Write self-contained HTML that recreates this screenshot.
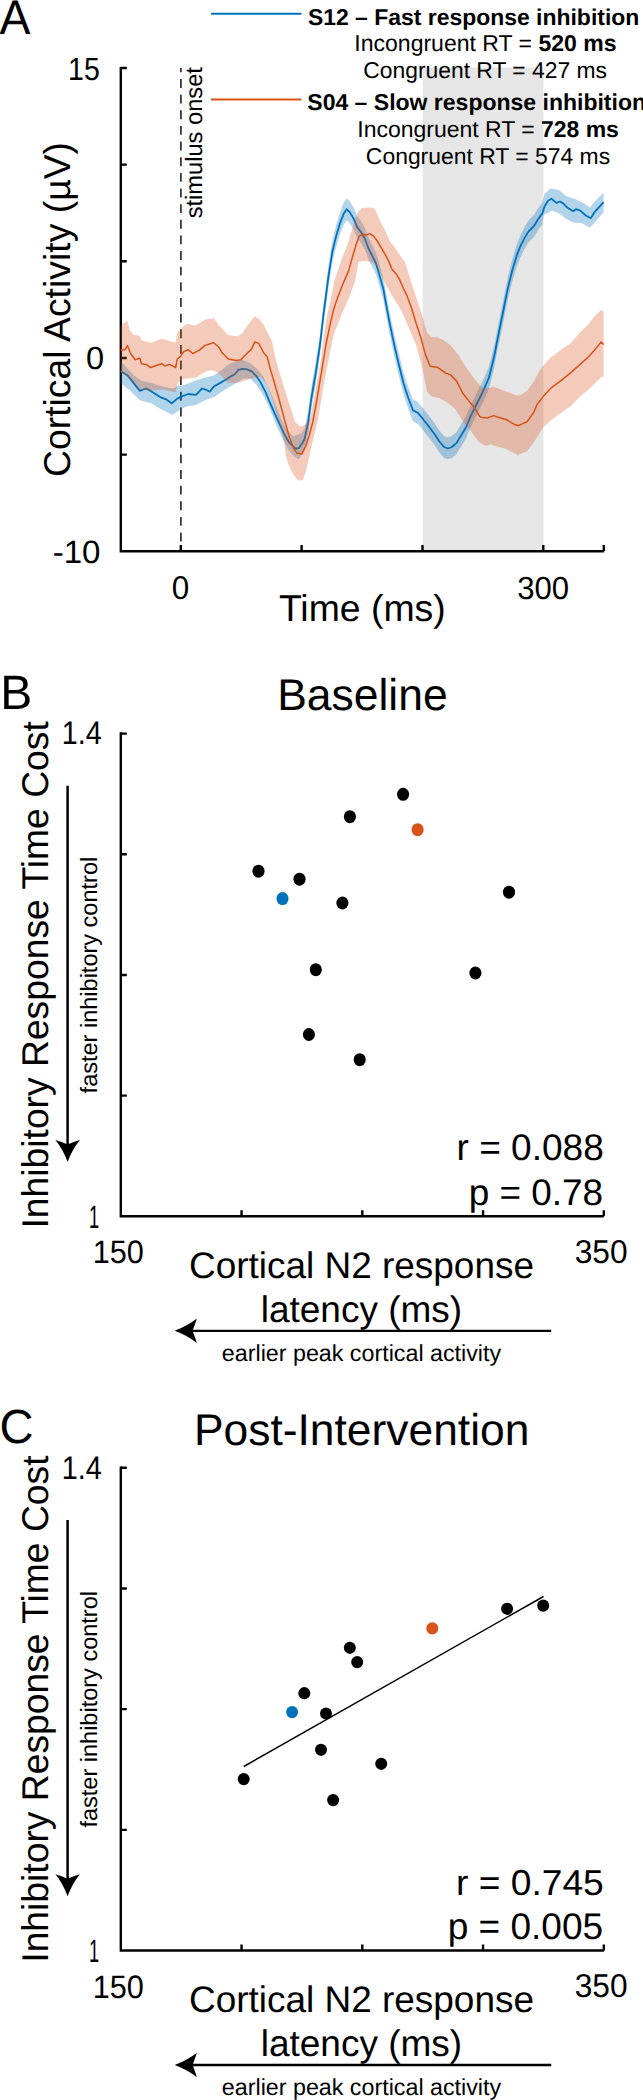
<!DOCTYPE html>
<html><head><meta charset="utf-8"><title>Figure</title>
<style>html,body{margin:0;padding:0;background:#fff;} svg{display:block;} text{font-family:"Liberation Sans", sans-serif;fill:#000;text-rendering:geometricPrecision;}</style>
</head><body>
<svg width="643" height="2100" viewBox="0 0 643 2100">
<rect x="0" y="0" width="643" height="2100" fill="#fff"/>
<g id="plotA">
<rect x="422.7" y="67.5" width="120.7" height="483" fill="#E6E6E6"/>
<line x1="180.9" y1="68" x2="180.9" y2="551" stroke="#383838" stroke-width="1.8" stroke-dasharray="8.9 6.74" stroke-dashoffset="4.6"/>
<path d="M120.8,66.9 V551.3 H603.8" fill="none" stroke="#000" stroke-width="2.4"/>
<path d="M120.8,68.00 h6 M120.8,164.66 h6 M120.8,261.32 h6 M120.8,357.98 h6 M120.8,454.64 h6 M180.8,551.3 v-6.2 M301.6,551.3 v-6.2 M422.5,551.3 v-6.2 M543.3,551.3 v-6.2 M603.8,551.3 v-6.2 " fill="none" stroke="#000" stroke-width="2.4"/>
<polygon points="120.6,361.0 133.7,375.3 141.4,380.8 150.8,383.1 161.7,386.2 172.5,388.5 177.2,386.2 185.0,384.7 192.8,381.5 202.1,378.4 214.3,375.3 220.6,370.7 228.3,364.4 236.1,361.3 242.3,359.8 250.1,362.9 256.3,368.3 262.5,375.3 268.8,387.8 275.0,403.3 281.2,418.9 287.4,431.3 293.6,436.0 298.3,434.4 301.7,433.0 304.5,428.2 306.4,419.8 308.3,410.5 311.1,389.0 315.9,361.0 320.1,333.0 323.3,305.0 325.6,287.3 328.7,263.6 332.5,240.0 336.2,225.1 339.9,212.6 343.7,202.7 346.8,198.3 349.9,201.4 353.6,207.6 357.3,216.3 361.1,221.3 364.8,227.5 368.5,237.5 372.3,245.0 376.0,252.4 379.7,264.9 383.5,278.6 385.3,289.0 389.7,312.3 394.3,334.1 399.0,354.3 403.7,373.0 408.3,387.0 413.0,399.4 417.7,401.7 422.3,407.2 428.5,415.0 434.8,423.5 439.4,430.5 444.1,436.0 448.0,437.5 451.9,436.0 456.5,432.1 461.2,424.3 465.9,416.5 470.5,405.6 475.2,396.0 479.7,387.0 484.3,377.4 489.0,366.5 493.7,347.8 498.3,324.5 503.0,301.2 507.7,277.9 512.3,259.2 517.0,243.7 520.1,235.9 524.2,227.6 528.4,220.6 534.0,215.0 538.2,208.0 542.4,202.4 544.5,193.8 550.8,188.2 559.2,190.3 566.2,195.9 576.0,199.4 584.4,203.6 590.0,207.8 592.8,203.6 603.6,192.4 603.6,212.0 595.6,221.8 590.0,227.4 581.6,223.2 573.2,222.5 566.2,219.0 559.2,213.4 552.2,210.6 543.8,214.8 542.4,224.4 538.2,230.0 534.0,237.0 528.4,242.6 524.2,249.6 520.1,257.9 517.0,265.7 512.3,281.2 507.7,299.9 503.0,323.2 498.3,346.5 493.7,369.8 489.0,388.5 484.3,399.4 479.7,409.0 475.2,418.0 470.5,427.6 465.9,438.5 461.2,446.3 456.5,454.1 451.9,458.0 448.0,459.5 444.1,458.0 439.4,452.5 434.8,445.5 428.5,437.0 422.3,429.2 417.7,423.7 413.0,421.4 408.3,409.0 403.7,395.0 399.0,376.3 394.3,356.1 389.7,334.3 385.3,311.0 383.5,300.6 379.7,286.9 376.0,274.4 372.3,267.0 368.5,259.5 364.8,249.5 361.1,243.3 357.3,238.3 353.6,229.6 349.9,223.4 346.8,220.3 343.7,224.7 339.9,234.6 336.2,247.1 332.5,262.0 328.7,285.6 325.6,309.3 323.3,327.0 320.1,355.0 315.9,383.0 311.1,411.0 308.3,432.5 306.4,441.8 304.5,450.2 301.7,455.0 298.3,459.3 293.6,456.2 287.4,448.4 281.2,436.0 275.0,422.0 268.8,406.4 262.5,394.0 256.3,384.7 250.1,378.4 243.9,378.4 236.1,383.1 228.3,387.8 220.6,392.4 214.3,397.1 205.2,400.2 195.9,404.9 186.5,406.4 180.3,409.5 172.5,415.0 161.7,409.5 150.8,403.3 139.9,400.2 130.6,390.9 120.6,383.0" fill="#0072BD" fill-opacity="0.3"/>
<polyline points="120.6,371.0 121.2,371.4 127.4,375.3 133.7,383.1 139.9,390.9 146.1,388.5 150.8,390.9 155.4,394.0 160.1,397.1 166.3,399.4 171.8,403.3 177.2,398.6 181.9,396.3 188.1,394.0 195.9,394.8 202.1,388.5 205.0,389.3 209.7,391.6 214.3,386.2 219.8,383.1 225.2,380.0 229.9,376.9 234.5,374.5 238.4,369.9 242.3,368.8 247.0,369.4 251.7,371.4 256.3,376.1 261.0,383.1 265.7,392.4 270.3,403.3 275.0,414.2 279.7,424.3 284.3,434.4 289.0,442.2 293.6,446.9 295.7,448.5 298.9,448.1 301.7,444.0 304.5,439.2 306.4,430.8 308.3,421.5 311.1,400.0 315.9,372.0 320.1,344.0 323.3,316.0 325.6,298.3 328.7,274.6 332.5,251.0 336.2,236.1 339.9,223.6 343.7,213.7 346.8,209.3 349.9,212.4 353.6,218.6 357.3,227.3 361.1,232.3 364.8,238.5 368.5,248.5 372.3,256.0 376.0,263.4 379.7,275.9 383.5,289.6 385.3,300.0 389.7,323.3 394.3,345.1 399.0,365.3 403.7,384.0 408.3,398.0 413.0,410.4 417.7,412.7 422.3,418.2 428.5,426.0 434.8,434.5 439.4,441.5 444.1,447.0 448.0,448.5 451.9,447.0 456.5,443.1 461.2,435.3 465.9,427.5 470.5,416.6 475.2,407.0 479.7,398.0 484.3,388.4 489.0,377.5 493.7,358.8 498.3,335.5 503.0,312.2 507.7,288.9 512.3,270.2 517.0,254.7 520.1,246.9 524.2,238.6 528.4,231.6 534.0,226.0 538.2,219.0 542.4,213.4 544.5,206.4 548.0,200.8 551.5,198.7 556.4,202.9 559.9,201.5 563.4,203.6 567.6,207.8 573.2,211.3 576.0,209.2 580.2,210.6 585.8,215.5 590.7,218.3 594.2,212.7 598.4,207.8 603.6,202.2" fill="none" stroke="#0072BD" stroke-width="1.8" stroke-linejoin="round"/>
<polygon points="120.6,325.0 127.4,320.9 129.8,330.2 133.7,334.9 139.9,335.7 141.4,340.3 150.8,342.7 161.7,338.8 175.7,342.7 177.2,333.3 183.4,326.3 186.5,324.0 195.9,325.6 205.0,319.5 214.3,318.6 219.0,325.6 228.3,334.9 237.7,336.4 242.3,333.3 248.5,324.0 254.8,316.2 259.4,319.3 264.1,325.6 267.2,331.8 271.9,341.1 276.5,362.9 282.8,383.1 289.0,403.3 295.2,422.0 299.9,426.6 305.0,425.1 310.3,418.6 315.4,390.6 320.5,362.6 324.4,332.0 326.2,320.0 328.1,310.7 330.4,301.3 332.3,292.0 334.1,281.5 338.5,268.8 342.8,256.0 347.2,245.6 351.9,230.0 355.5,218.0 358.6,211.2 362.3,208.1 371.0,207.4 374.8,208.7 379.7,219.9 384.7,229.8 389.7,241.0 394.7,247.3 399.6,254.7 405.0,262.0 411.4,282.9 420.8,310.9 427.0,332.6 431.7,337.3 437.9,337.3 444.1,340.4 450.3,345.1 458.1,354.4 465.9,366.9 473.6,377.7 481.4,387.1 485.0,389.0 493.7,386.8 506.1,391.5 517.0,395.4 520.0,395.2 527.0,391.0 534.0,381.2 538.2,372.8 543.1,365.8 550.8,357.4 562.0,349.0 570.4,343.4 578.8,333.6 587.2,325.2 594.2,316.8 601.2,309.8 603.6,311.2 603.6,377.0 601.2,377.0 594.2,384.0 588.6,389.6 580.2,396.6 570.4,406.4 562.0,412.0 550.8,420.4 543.1,427.4 535.4,440.0 527.0,451.2 520.0,454.0 518.5,455.3 506.1,449.0 490.6,444.4 485.0,446.0 478.3,441.5 470.5,430.6 462.8,421.3 455.0,408.8 447.2,402.6 439.4,398.0 431.7,396.4 427.0,391.7 422.3,368.4 416.1,345.1 408.3,326.4 400.6,309.3 392.8,296.9 385.0,282.9 377.0,267.0 372.0,262.5 367.3,260.9 363.6,260.9 358.6,262.0 354.9,282.1 348.6,299.0 342.9,311.3 337.3,325.3 333.6,334.6 329.9,353.3 324.3,381.3 318.2,418.6 313.0,440.0 308.0,462.0 305.5,472.8 302.7,480.2 298.0,480.2 293.3,474.6 288.7,465.3 285.9,456.0 284.3,443.0 279.7,424.0 273.4,403.3 267.2,384.7 261.0,376.9 251.7,378.4 242.3,381.5 236.1,383.1 228.3,383.1 217.4,372.2 211.2,369.9 205.0,372.0 195.9,377.7 186.5,378.4 180.3,380.0 177.2,384.7 175.7,392.4 161.7,389.3 150.8,390.9 139.9,389.3 130.6,380.0 120.6,372.0" fill="#D95319" fill-opacity="0.3"/>
<polyline points="120.6,350.0 121.2,350.1 125.1,349.7 127.4,345.5 130.6,353.5 135.2,359.8 139.9,358.2 141.4,363.7 146.1,364.4 150.8,367.5 157.0,365.2 161.7,363.7 164.8,366.0 169.4,364.4 175.7,367.5 177.2,359.0 180.3,356.7 183.4,352.0 188.1,349.7 192.8,353.5 199.0,350.4 205.0,345.4 213.6,342.7 219.0,347.3 222.1,352.8 228.3,359.0 236.1,360.5 240.8,359.8 245.4,355.1 251.7,348.9 254.8,341.9 258.7,343.4 264.1,353.5 267.2,356.7 270.3,369.1 275.0,384.7 279.7,401.8 284.3,418.9 289.0,436.0 292.9,446.9 296.8,453.1 298.0,453.2 301.7,454.1 305.5,446.7 309.2,435.5 312.9,421.5 316.8,400.0 321.5,372.0 326.1,344.0 329.9,325.3 333.6,309.4 337.4,298.3 343.7,282.1 348.6,270.9 352.4,257.2 356.1,244.8 359.2,236.1 362.3,234.6 366.1,235.1 369.8,233.6 373.5,236.1 377.3,241.0 381.0,247.3 384.7,253.5 388.5,260.9 392.2,269.6 395.9,273.4 399.6,279.6 403.4,288.3 406.8,295.3 411.4,307.8 416.1,323.3 420.8,337.3 425.4,354.4 430.1,366.1 437.9,367.6 445.7,373.1 450.3,374.6 456.5,380.9 462.8,393.3 469.0,401.1 475.2,408.8 479.9,416.6 481.2,417.2 487.4,418.0 493.7,415.6 498.3,417.2 506.1,419.5 513.9,424.2 518.5,425.7 523.2,423.4 527.0,421.8 534.0,412.0 536.8,405.0 543.1,396.6 550.8,388.2 562.0,379.8 570.4,372.8 580.2,364.4 588.6,356.7 594.2,350.4 601.2,342.0 603.6,344.5" fill="none" stroke="#D95319" stroke-width="1.5" stroke-linejoin="round"/>
<line x1="211" y1="13.8" x2="301.5" y2="13.8" stroke="#0072BD" stroke-width="2"/>
<line x1="211" y1="99.4" x2="301.5" y2="99.4" stroke="#D95319" stroke-width="2"/>
</g>
<text x="-0.55" y="34.2" font-size="48.58" textLength="30.95" lengthAdjust="spacingAndGlyphs">A</text>
<text x="307.9" y="24.65" font-size="22.94" font-weight="bold">S12 – Fast response inhibition</text>
<text x="485.4" y="51.4" font-size="23.02" text-anchor="middle">Incongruent RT = <tspan font-weight="bold">520 ms</tspan></text>
<text x="485.15" y="78.15" font-size="22.86" text-anchor="middle">Congruent RT = 427 ms</text>
<text x="307.3" y="110.05" font-size="23" font-weight="bold">S04 – Slow response inhibition</text>
<text x="488.1" y="136.55" font-size="22.98" text-anchor="middle">Incongruent RT = <tspan font-weight="bold">728 ms</tspan></text>
<text x="488.0" y="163.75" font-size="22.92" text-anchor="middle">Congruent RT = 574 ms</text>
<text x="99.8" y="80.1" font-size="32.16" text-anchor="end" textLength="31.68" lengthAdjust="spacingAndGlyphs">15</text>
<text x="104.05" y="369.45" font-size="31.82" text-anchor="end" textLength="18.11" lengthAdjust="spacingAndGlyphs">0</text>
<text x="100.5" y="562.5" font-size="32.18" text-anchor="end" textLength="47.82" lengthAdjust="spacingAndGlyphs">-10</text>
<text x="180.6" y="598.85" font-size="32.94" text-anchor="middle" textLength="17.48" lengthAdjust="spacingAndGlyphs">0</text>
<text x="543.15" y="599.0" font-size="31.9" text-anchor="middle" textLength="51.91" lengthAdjust="spacingAndGlyphs">300</text>
<text x="362.3" y="620.8" font-size="37.4" text-anchor="middle">Time (ms)</text>
<text x="70.4" y="309.5" font-size="37.39" text-anchor="middle" transform="rotate(-90 70.4 309.5)">Cortical Activity (µV)</text>
<text x="201.75" y="67.05" font-size="23.68" text-anchor="end" transform="rotate(-90 201.75 67.05)">stimulus onset</text>
<g id="plotB">
<path d="M120.8,732.3 V1216.3 H603.8" fill="none" stroke="#000" stroke-width="2.4"/>
<path d="M120.8,733.60 h6 M120.8,854.28 h6 M120.8,974.96 h6 M120.8,1095.64 h6 M241.55,1216.3 v-6.1 M362.3,1216.3 v-6.1 M483.05,1216.3 v-6.1 M603.8,1216.3 v-6.1 " fill="none" stroke="#000" stroke-width="2.4"/>
<line x1="67.6" y1="785.7" x2="67.6" y2="1146" stroke="#000" stroke-width="2.5"/>
<path d="M67.6,1162 Q63,1149.5 55.4,1140.1 Q62,1142 67.6,1144.6 Q73.2,1142 79.9,1140.1 Q72.2,1149.5 67.6,1162 Z" fill="#000"/>
<line x1="191" y1="1330.8" x2="551.2" y2="1330.8" stroke="#000" stroke-width="2.3"/>
<path d="M174.7,1330.8 Q187.2,1326.2 196.9,1318.6 Q194.8,1325 192.6,1330.8 Q194.8,1336.6 196.9,1343 Q187.2,1335.4 174.7,1330.8 Z" fill="#000"/>
<ellipse cx="403.1" cy="794.3" rx="6.05" ry="6.5" fill="#000"/>
<ellipse cx="349.9" cy="816.7" rx="6.05" ry="6.5" fill="#000"/>
<ellipse cx="417.6" cy="829.7" rx="6.05" ry="6.5" fill="#D95319"/>
<ellipse cx="258.5" cy="871.2" rx="6.05" ry="6.5" fill="#000"/>
<ellipse cx="299.5" cy="879.2" rx="6.05" ry="6.5" fill="#000"/>
<ellipse cx="282.5" cy="898.6" rx="6.05" ry="6.5" fill="#0072BD"/>
<ellipse cx="342.4" cy="903" rx="6.05" ry="6.5" fill="#000"/>
<ellipse cx="509" cy="892.2" rx="6.05" ry="6.5" fill="#000"/>
<ellipse cx="315.8" cy="969.7" rx="6.05" ry="6.5" fill="#000"/>
<ellipse cx="475.4" cy="973" rx="6.05" ry="6.5" fill="#000"/>
<ellipse cx="308.9" cy="1034.5" rx="6.05" ry="6.5" fill="#000"/>
<ellipse cx="359.7" cy="1059.7" rx="6.05" ry="6.5" fill="#000"/>
</g>
<g id="plotC">
<path d="M120.8,1466.5 V1950.5 H603.8" fill="none" stroke="#000" stroke-width="2.4"/>
<path d="M120.8,1467.80 h6 M120.8,1588.48 h6 M120.8,1709.16 h6 M120.8,1829.84 h6 M241.55,1950.5 v-6.1 M362.3,1950.5 v-6.1 M483.05,1950.5 v-6.1 M603.8,1950.5 v-6.1 " fill="none" stroke="#000" stroke-width="2.4"/>
<line x1="67.6" y1="1519.9" x2="67.6" y2="1880.2" stroke="#000" stroke-width="2.5"/>
<path d="M67.6,1896.2 Q63,1883.7 55.4,1874.3 Q62,1876.2 67.6,1878.8 Q73.2,1876.2 79.9,1874.3 Q72.2,1883.7 67.6,1896.2 Z" fill="#000"/>
<line x1="191" y1="2065.0" x2="551.2" y2="2065.0" stroke="#000" stroke-width="2.3"/>
<path d="M174.7,2065.0 Q187.2,2060.4 196.9,2052.8 Q194.8,2059.2 192.6,2065.0 Q194.8,2070.8 196.9,2077.2 Q187.2,2069.6000000000004 174.7,2065.0 Z" fill="#000"/>
<line x1="243.7" y1="1766.5" x2="543.5" y2="1596.5" stroke="#000" stroke-width="1.5"/>
<ellipse cx="507.1" cy="1608.8" rx="6.0" ry="6.1" fill="#000"/>
<ellipse cx="543.2" cy="1605.6" rx="6.0" ry="6.1" fill="#000"/>
<ellipse cx="432.3" cy="1628.4" rx="6.0" ry="6.1" fill="#D95319"/>
<ellipse cx="349.8" cy="1647.8" rx="6.0" ry="6.1" fill="#000"/>
<ellipse cx="357.2" cy="1662.1" rx="6.0" ry="6.1" fill="#000"/>
<ellipse cx="304.3" cy="1693.2" rx="6.0" ry="6.1" fill="#000"/>
<ellipse cx="292.1" cy="1712.1" rx="6.0" ry="6.1" fill="#0072BD"/>
<ellipse cx="326" cy="1713.5" rx="6.0" ry="6.1" fill="#000"/>
<ellipse cx="321" cy="1749.8" rx="6.0" ry="6.1" fill="#000"/>
<ellipse cx="381.2" cy="1763.8" rx="6.0" ry="6.1" fill="#000"/>
<ellipse cx="243.7" cy="1779.1" rx="6.0" ry="6.1" fill="#000"/>
<ellipse cx="333.1" cy="1800.1" rx="6.0" ry="6.1" fill="#000"/>
</g>
<text x="0.15" y="709.25" font-size="48.23" textLength="31.98" lengthAdjust="spacingAndGlyphs">B</text>
<text x="362.4" y="709.75" font-size="44.43" text-anchor="middle">Baseline</text>
<text x="101.8" y="744.4" font-size="32.7" text-anchor="end" textLength="39.96" lengthAdjust="spacingAndGlyphs">1.4</text>
<text x="99.2" y="1228.2" font-size="32.44" text-anchor="end" textLength="10.16" lengthAdjust="spacingAndGlyphs">1</text>
<text x="118.3" y="1263.4" font-size="32.43" text-anchor="middle" textLength="51.14" lengthAdjust="spacingAndGlyphs">150</text>
<text x="601.15" y="1263.1" font-size="33.07" text-anchor="middle" textLength="52.90" lengthAdjust="spacingAndGlyphs">350</text>
<text x="47.8" y="974.9" font-size="37.25" text-anchor="middle" transform="rotate(-90 47.8 974.9)">Inhibitory Response Time Cost</text>
<text x="97.0" y="975.1" font-size="23.52" text-anchor="middle" transform="rotate(-90 97.0 975.1)">faster inhibitory control</text>
<text x="361.5" y="1277.6" font-size="36.95" text-anchor="middle">Cortical N2 response</text>
<text x="361.45" y="1322.0" font-size="37.01" text-anchor="middle">latency (ms)</text>
<text x="361.5" y="1360.5" font-size="23.27" text-anchor="middle">earlier peak cortical activity</text>
<text x="603.85" y="1159.55" font-size="36.99" text-anchor="end" textLength="147.34" lengthAdjust="spacingAndGlyphs">r = 0.088</text>
<text x="603.1" y="1204.9" font-size="36.92" text-anchor="end">p = 0.78</text>
<text x="101.8" y="1478.6" font-size="32.7" text-anchor="end" textLength="39.96" lengthAdjust="spacingAndGlyphs">1.4</text>
<text x="99.2" y="1962.4" font-size="32.44" text-anchor="end" textLength="10.16" lengthAdjust="spacingAndGlyphs">1</text>
<text x="118.3" y="1997.6" font-size="32.43" text-anchor="middle" textLength="51.14" lengthAdjust="spacingAndGlyphs">150</text>
<text x="601.15" y="1997.3" font-size="33.07" text-anchor="middle" textLength="52.90" lengthAdjust="spacingAndGlyphs">350</text>
<text x="47.8" y="1709.1" font-size="37.25" text-anchor="middle" transform="rotate(-90 47.8 1709.1)">Inhibitory Response Time Cost</text>
<text x="97.0" y="1709.3" font-size="23.52" text-anchor="middle" transform="rotate(-90 97.0 1709.3)">faster inhibitory control</text>
<text x="361.5" y="2011.8" font-size="36.95" text-anchor="middle">Cortical N2 response</text>
<text x="361.45" y="2056.2" font-size="37.01" text-anchor="middle">latency (ms)</text>
<text x="361.5" y="2094.7" font-size="23.27" text-anchor="middle">earlier peak cortical activity</text>
<text x="-0.45" y="1443.4" font-size="47.9" textLength="34.06" lengthAdjust="spacingAndGlyphs">C</text>
<text x="361.7" y="1445.3" font-size="44.38" text-anchor="middle">Post-Intervention</text>
<text x="603.8" y="1894.65" font-size="36.01" text-anchor="end" textLength="147.83" lengthAdjust="spacingAndGlyphs">r = 0.745</text>
<text x="603.15" y="1939.3" font-size="37.04" text-anchor="end">p = 0.005</text>
</svg>
</body></html>
